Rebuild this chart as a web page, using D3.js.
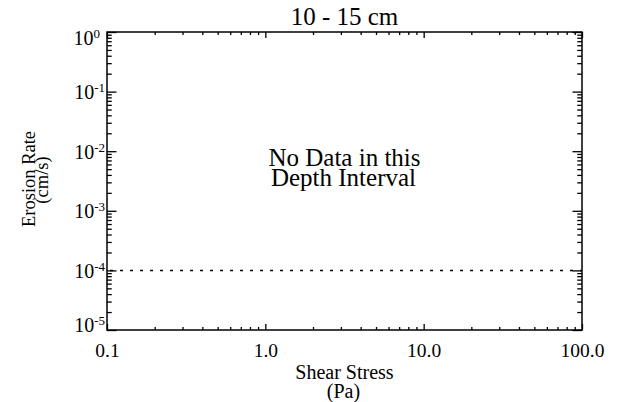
<!DOCTYPE html>
<html>
<head>
<meta charset="utf-8">
<script src="https://cdn.jsdelivr.net/npm/d3@7"></script>
<style>
  html, body { margin: 0; padding: 0; background: #fff; }
  svg { display: block; }
  text { font-family: "Liberation Serif", "Times New Roman", serif; fill: #000; }
</style>
</head>
<body>
<div id="root"></div>
<script>
// data
const title = "10 - 15 cm";
const message = ["No Data in this", "Depth Interval"];
const xTicks = [0.1, 1, 10, 100];
const xTickLabels = ["0.1", "1.0", "10.0", "100.0"];
const yExponents = [0, -1, -2, -3, -4, -5];
const thresholdRate = [1e-4];
const xTitle = ["Shear Stress", "(Pa)"];
const yTitle = ["Erosion Rate", "(cm/s)"];

// SVG coordinates
const W = 628, H = 402;
const plotL = 107, plotR = 582, plotT = 32, plotB = 330;

const svg = d3.select("#root").append("svg")
    .attr("width", W)
    .attr("height", H)
    .attr("font-family", "Liberation Serif, serif");

const x = d3.scaleLog().domain([0.1, 100]).range([plotL, plotR]);
const y = d3.scaleLog().domain([1e-5, 1]).range([plotB, plotT]);

const yTicks = yExponents.map(e => Math.pow(10, e));
const isMajor = (v) => Math.abs(Math.log10(v) - Math.round(Math.log10(v))) < 1e-9;
const xMinor = x.ticks().filter(v => !isMajor(v));
const yMinor = y.ticks().filter(v => !isMajor(v));

const strokeW = 1.5;

function styleAxis(g) {
    g.select(".domain").remove();
    g.attr("font-family", null).attr("font-size", null);
    g.selectAll(".tick line").attr("stroke", "#000").attr("stroke-width", 1.3);
}

// x axes: bottom + top, ticks inward
const bot = svg.append("g").attr("transform", `translate(0,${plotB})`);
bot.append("g").call(d3.axisBottom(x).tickValues(xMinor).tickSize(-3).tickFormat("")).call(styleAxis);
const botMajor = bot.append("g")
    .call(d3.axisBottom(x).tickValues(xTicks).tickSize(-6).tickFormat((d, i) => xTickLabels[i]))
    .call(styleAxis);
botMajor.selectAll(".tick text")
    .attr("y", 27).attr("dy", 0)
    .attr("font-size", 19.5);

const topG = svg.append("g").attr("transform", `translate(0,${plotT})`);
topG.append("g").call(d3.axisTop(x).tickValues(xMinor).tickSize(-3).tickFormat("")).call(styleAxis);
topG.append("g").call(d3.axisTop(x).tickValues(xTicks).tickSize(-6).tickFormat("")).call(styleAxis);

// y axes: left + right, ticks inward
const lft = svg.append("g").attr("transform", `translate(${plotL},0)`);
lft.append("g").call(d3.axisLeft(y).tickValues(yMinor).tickSize(-4.75).tickFormat("")).call(styleAxis);
const lftMajor = lft.append("g")
    .call(d3.axisLeft(y).tickValues(yTicks).tickSize(-9.5).tickFormat(""))
    .call(styleAxis);
lftMajor.selectAll(".tick text").remove();
lftMajor.selectAll(".tick").each(function(d, i) {
    const exp = yExponents[i];
    let dy = 7;
    if (i === 0) dy = 12;
    if (i === yExponents.length - 1) dy = 1;
    const t = d3.select(this).append("text")
        .attr("x", exp < 0 ? -2 : -7)
        .attr("y", dy)
        .attr("text-anchor", "end")
        .attr("font-size", 20);
    t.append("tspan").text("10");
    t.append("tspan").attr("dy", -7).attr("font-size", 13).text(String(exp));
});

const rgt = svg.append("g").attr("transform", `translate(${plotR},0)`);
rgt.append("g").call(d3.axisRight(y).tickValues(yMinor).tickSize(-4.75).tickFormat("")).call(styleAxis);
rgt.append("g").call(d3.axisRight(y).tickValues(yTicks).tickSize(-9.5).tickFormat("")).call(styleAxis);

// frame
svg.append("rect")
    .attr("x", plotL).attr("y", plotT)
    .attr("width", plotR - plotL).attr("height", plotB - plotT)
    .attr("fill", "none").attr("stroke", "#000").attr("stroke-width", strokeW);

// threshold dotted line
svg.append("g").selectAll("line")
    .data(thresholdRate)
    .enter().append("line")
    .attr("x1", x(0.1)).attr("x2", x(100))
    .attr("y1", d => y(d)).attr("y2", d => y(d))
    .attr("stroke", "#000")
    .attr("stroke-width", 1.5)
    .attr("stroke-dasharray", "3,7")
    .attr("stroke-dashoffset", -3);

// title
const cx = (plotL + plotR) / 2;
svg.append("text")
    .attr("x", cx).attr("y", 25)
    .attr("text-anchor", "middle")
    .attr("font-size", 25)
    .text(title);

// multi-line labels as one text with tspans
function lines(sel, arr, x0, step) {
    sel.selectAll("tspan")
        .data(arr)
        .enter().append("tspan")
        .attr("x", (d, i) => x0 + (i ? -1 : 0))
        .attr("dy", (d, i) => i ? step : 0)
        .text(d => d);
}

// message
svg.append("text")
    .attr("y", 166)
    .attr("text-anchor", "middle")
    .attr("font-size", 25)
    .call(lines, message, cx, 20);

// x title
svg.append("text")
    .attr("y", 379)
    .attr("text-anchor", "middle")
    .attr("font-size", 20)
    .call(lines, xTitle, cx, 19);

// y title
svg.append("text")
    .attr("transform", "translate(35,179) rotate(-90)")
    .attr("text-anchor", "middle")
    .attr("font-size", 18.5)
    .call(lines, yTitle, 0, 13);
</script>
</body>
</html>
